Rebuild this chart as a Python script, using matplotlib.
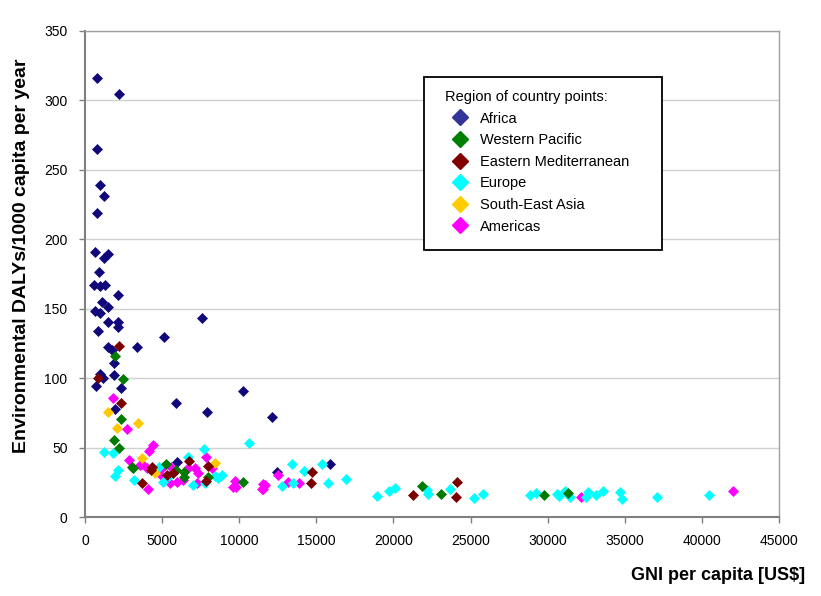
import matplotlib
matplotlib.use("Agg")
import matplotlib.pyplot as plt
from matplotlib.lines import Line2D
from matplotlib.patches import Rectangle

plt.rcParams['font.family'] = ['Liberation Sans', 'DejaVu Sans']

# ---- data (GNI per capita US$, environmental DALYs/1000 capita/year) ----
africa_x = [778, 2205, 778, 778, 973, 1232, 627, 1250, 1470, 930, 605, 973, 1297,
            2118, 1080, 1470, 650, 973, 1470, 2160, 2118, 865, 5122, 1513, 1729,
            3350, 1902, 973, 1189, 1902, 713, 2334, 5879, 1967, 7586, 7888,
            10225, 12145, 5943, 12430, 15886]
africa_y = [316, 304, 265, 219, 239, 231, 191, 186, 189, 176, 167, 166, 167,
            160, 155, 151, 148, 147, 140, 140, 137, 134, 129.5, 122, 120,
            122, 110.5, 102.7, 100.2, 102.4, 94, 93, 82, 78, 143, 75.5,
            91, 72, 39.6, 32.6, 37.9]

wpac_x = [1967, 2486, 2334, 1880, 2205, 3026, 3134, 5252, 5900, 6440, 6440,
          7997, 10266, 21870, 23060, 29780, 31340]
wpac_y = [116, 99.3, 70.5, 55.4, 49.4, 36.2, 35.5, 38.1, 33.8, 32.6, 28.6,
          29, 25.4, 22.5, 16.5, 15.8, 17]

emed_x = [2183, 821, 2334, 4323, 4280, 5684, 5339, 6764, 7954, 7845, 3717,
          14697, 14632, 21288, 24100, 24060]
emed_y = [123, 99.8, 82, 36, 33.8, 31.4, 30.2, 40.5, 36.7, 26.1, 24.7,
          32.2, 24.2, 15.8, 25, 14.2]

europe_x = [1232, 1837, 7716, 10634, 2118, 1945, 4820, 5468, 5080, 6700, 7024,
            7780, 8429, 8646, 8905, 3198, 12750, 13445, 13466, 14200, 15390,
            15778, 16925, 18913, 19733, 20100, 22150, 22260, 23667, 25240,
            25826, 28854, 29243, 30580, 30735, 31123, 31447, 32485, 32635,
            33134, 33607, 34690, 34800, 37067, 40437]
europe_y = [47, 45.8, 48.7, 53.5, 33.8, 29.7, 35.7, 29.5, 25.4, 42.9, 23,
            24.2, 29.5, 28.3, 30.2, 26.6, 22.5, 38.1, 24.7, 33.1, 38.1,
            24.7, 27.3, 15.1, 18.9, 21.1, 19.4, 16.5, 19.9, 13.5,
            16.5, 15.8, 17, 16.3, 15.1, 18.9, 14.6, 14.6, 18.2,
            15.8, 18.7, 17.8, 13.2, 14.4, 15.8]

sea_x = [1513, 2053, 3458, 3717, 4539, 8429]
sea_y = [75.8, 63.8, 67.4, 42.2, 31.9, 38.6]

amer_x = [1837, 2702, 4383, 4170, 2853, 3674, 3998, 5080, 5555, 4900, 6700,
          7133, 7349, 5512, 5943, 6375, 7284, 7845, 8213, 9726, 9791, 9618,
          11563, 11455, 4107, 3566, 12537, 11670, 11520, 13185, 13898, 32140,
          42036]
amer_y = [85.4, 63, 51.8, 47.7, 41, 37.9, 35, 36, 35.7, 30.2, 35,
          35, 31.9, 24.7, 25.4, 26.6, 24.7, 42.9, 35, 25.9, 21.8, 21.4,
          23.7, 19.9, 19.9, 37.4, 30.2, 23, 20, 25.4, 24.7, 14.6,
          18.5]

regions = ["Africa", "Western Pacific", "Eastern Mediterranean", "Europe",
           "South-East Asia", "Americas"]
marker_colors = ["#10087a", "#007a00", "#7a0000", "#00ffff", "#ffc800", "#ff00ff"]
legend_colors = ["#333399", "#008000", "#800000", "#00ffff", "#ffcc00", "#ff00ff"]
xs = [africa_x, wpac_x, emed_x, europe_x, sea_x, amer_x]
ys = [africa_y, wpac_y, emed_y, europe_y, sea_y, amer_y]

xticks = [0, 5000, 10000, 15000, 20000, 25000, 30000, 35000, 40000, 45000]
yticks = [0, 50, 100, 150, 200, 250, 300, 350]

fig = plt.figure(figsize=(8.21, 5.96), dpi=100)
ax = fig.add_axes([0.1035, 0.1325, 0.8453, 0.8163])

order = [0, 5, 3, 4, 1, 2]
for i in order:
    ax.plot(xs[i], ys[i], linestyle='none', marker='D', markersize=5.2,
            markerfacecolor=marker_colors[i], markeredgecolor=marker_colors[i],
            markeredgewidth=0.5, zorder=3)

ax.set_xlim(0, 45000)
ax.set_ylim(0, 350)
ax.set_xticks(xticks)
ax.set_yticks(yticks)
ax.set_xticklabels([str(t) for t in xticks], fontsize=10)
ax.set_yticklabels([str(t) for t in yticks], fontsize=10)
ax.yaxis.grid(True, color='#d0d0d0', linewidth=1.0)
ax.set_axisbelow(True)
for s in ['left', 'bottom']:
    ax.spines[s].set_color('#808080')
    ax.spines[s].set_linewidth(1.5)
for s in ['right', 'top']:
    ax.spines[s].set_color('#a0a0a0')
    ax.spines[s].set_linewidth(1.0)
ax.tick_params(axis='both', direction='out', length=4, color='#808080', width=1)
ax.tick_params(axis='y', pad=8.5)
ax.tick_params(axis='x', pad=8)

fig.text(0.026, 1 - 256 / 596, "Environmental DALYs/1000 capita per year",
         fontsize=14, fontweight='bold', rotation=90, ha='center', va='center')
fig.text(0.981, 1 - 575 / 596, "GNI per capita [US$]", fontsize=13,
         fontweight='bold', ha='right', va='center')

# legend box
ax.add_patch(Rectangle((0.4885, 0.5488), 0.343, 0.3556, transform=ax.transAxes,
                       facecolor='white', edgecolor='black', linewidth=1.3,
                       zorder=5))
handles = [Line2D([], [], linestyle='none', marker='D', markersize=8.5,
                  markerfacecolor=c, markeredgecolor=c) for c in legend_colors]
leg = ax.legend(handles, regions, title="Region of country points:",
                loc='upper left', bbox_to_anchor=(0.5187, 0.8777),
                fontsize=10.5, title_fontsize=10.5, frameon=False,
                borderpad=0, labelspacing=0.52, handletextpad=0.3,
                handlelength=2.1, borderaxespad=0)
leg.set_zorder(6)
leg._legend_box.align = "left"

fig.savefig("out.png", dpi=100)
